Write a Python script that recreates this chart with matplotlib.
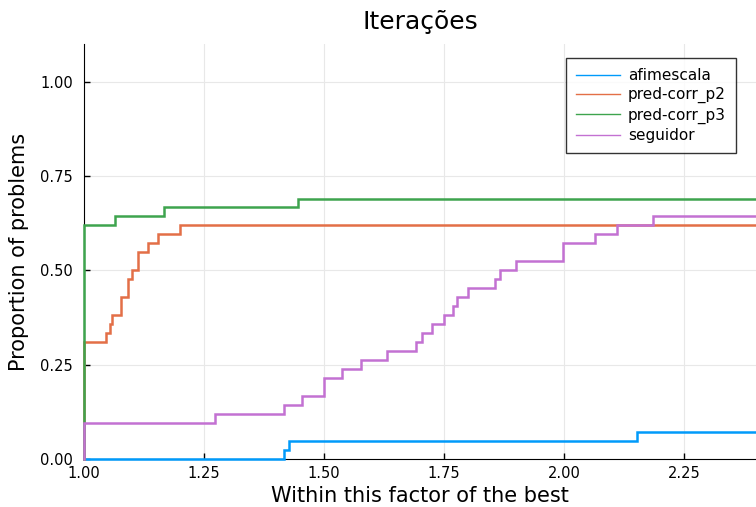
import numpy as np
import matplotlib.pyplot as plt

# performance profile data (ratio breakpoints, proportion of problems solved)
N_PROB = 42

afim_x = [1.00, 1.416, 1.428, 2.152, 2.50]
afim_n = [0, 1, 2, 3, 3]

p2_x = [1.00, 1.00, 1.046, 1.054, 1.059, 1.077, 1.092, 1.101, 1.113, 1.134, 1.155, 1.201, 2.50]
p2_n = [0, 13, 14, 15, 16, 18, 20, 21, 23, 24, 25, 26, 26]

p3_x = [1.00, 1.00, 1.064, 1.167, 1.445, 2.50]
p3_n = [0, 26, 27, 28, 29, 29]

seg_x = [1.00, 1.00, 1.273, 1.416, 1.454, 1.501, 1.538, 1.578, 1.631, 1.692, 1.705,
         1.726, 1.749, 1.768, 1.778, 1.799, 1.856, 1.866, 1.899, 1.998, 2.065, 2.110,
         2.186, 2.50]
seg_n = [0, 4, 5, 6, 7, 9, 10, 11, 12, 13, 14, 15, 16, 17, 18, 19, 20, 21, 22, 24,
         25, 26, 27, 27]

SERIES = [
    ("afimescala", afim_x, afim_n, "#009AFA"),
    ("pred-corr_p2", p2_x, p2_n, "#E36F47"),
    ("pred-corr_p3", p3_x, p3_n, "#3EA44E"),
    ("seguidor", seg_x, seg_n, "#C371D2"),
]

fig = plt.figure(figsize=(7.56, 5.07), dpi=100)
ax = fig.add_axes([84 / 756, 48 / 507, 672 / 756, 415 / 507])

for name, xs, ns, col in SERIES:
    ax.plot(xs, np.array(ns) / N_PROB, drawstyle="steps-post", color=col, lw=1.8,
            label=name, solid_joinstyle="miter", zorder=3, clip_on=False)

ax.set_xlim(1.0, 2.4)
ax.set_ylim(0.0, 1.1)
ax.set_xticks([1.00, 1.25, 1.50, 1.75, 2.00, 2.25])
ax.set_yticks([0.00, 0.25, 0.50, 0.75, 1.00])
ax.xaxis.set_major_formatter(plt.FormatStrFormatter("%.2f"))
ax.yaxis.set_major_formatter(plt.FormatStrFormatter("%.2f"))
ax.tick_params(direction="in", length=4, width=1, labelsize=10.5)
ax.tick_params(axis="y", pad=8)
ax.tick_params(axis="x", pad=5)
ax.grid(True, color="#e8e8e8", lw=0.8)
ax.set_axisbelow(True)
for s in ("top", "right"):
    ax.spines[s].set_visible(False)

ax.set_title("Iterações", fontsize=18, pad=11)
ax.set_xlabel("Within this factor of the best", fontsize=15, labelpad=4)
ax.set_ylabel("Proportion of problems", fontsize=15, labelpad=8)

leg = ax.legend(loc="upper right", bbox_to_anchor=(0.9702, 0.9664), fontsize=11,
                frameon=True, fancybox=False, edgecolor="black", handlelength=2.9,
                handletextpad=0.5, borderpad=0.65, borderaxespad=0.0,
                labelspacing=0.28)
leg.get_frame().set_linewidth(1.0)
for ln in leg.get_lines():
    ln.set_linewidth(1.0)

fig.savefig("out.png", dpi=100)
